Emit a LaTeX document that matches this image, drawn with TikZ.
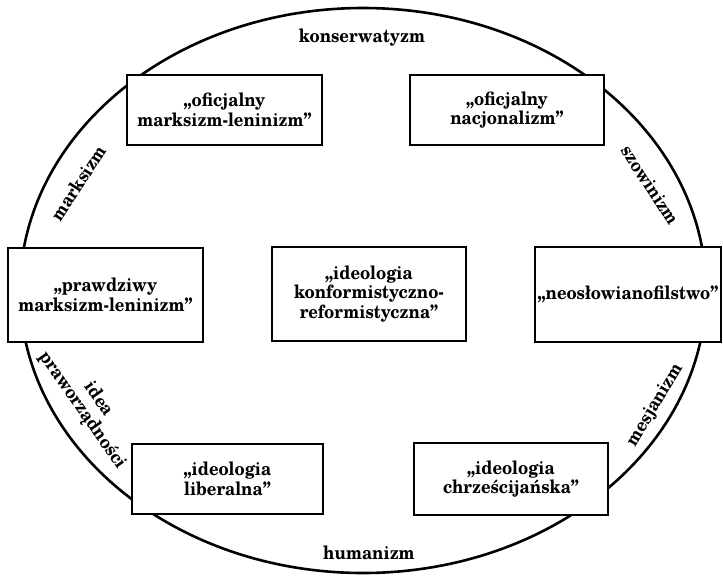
\documentclass[tikz,border=0pt]{standalone}
\usepackage{fontspec}
\setmainfont{texgyreschola}[Extension=.otf, UprightFont=*-regular, BoldFont=*-bold, ItalicFont=*-italic, BoldItalicFont=*-bolditalic, FakeStretch=0.9]
\begin{document}
\begin{tikzpicture}[x=1pt,y=-1pt,
  txt/.style={font=\bfseries\fontsize{18.5}{19.5}\selectfont},
  box/.style={txt, draw, line width=2.6pt, fill=white, align=center, inner sep=0pt},
  lab/.style={txt, inner sep=0pt, align=center}]
\useasboundingbox (0,0) rectangle (723,576);
\draw[line width=2.6pt] (363,290.5) ellipse [x radius=343, y radius=282.5];
\node[box, minimum width=195pt, minimum height=70pt] (tl) at (224.5,110) {„oficjalny\\marksizm-leninizm”};
\node[box, minimum width=194pt, minimum height=70pt] (tr) at (507,110) {„oficjalny\\nacjonalizm”};
\node[box, minimum width=195pt, minimum height=94pt] (ml) at (105.5,295) {„prawdziwy\\marksizm-leninizm”};
\node[box, minimum width=194pt, minimum height=94pt] (c) at (369,294) {„ideologia\\konformistyczno-\\reformistyczna”};
\node[box, minimum width=186pt, minimum height=95pt] (mr) at (628,294.5) {„neosłowianofilstwo”};
\node[box, minimum width=191pt, minimum height=70pt] (bl) at (227.5,479) {„ideologia\\liberalna”};
\node[box, minimum width=194pt, minimum height=72pt] (br) at (511,479) {„ideologia\\chrześcijańska”};
\node[lab] (kons) at (362,38) {konserwatyzm};
\node[lab] (hum) at (369,553) {humanizm};
\node[lab, rotate=57] (marks) at (78,183) {marksizm};
\node[lab, rotate=-57] (szow) at (650,185) {szowinizm};
\node[lab, rotate=59] (mesj) at (655,405) {mesjanizm};
\node[lab, rotate=-55] (idea) at (90,405) {idea\\praworządności};
\end{tikzpicture}
\end{document}
